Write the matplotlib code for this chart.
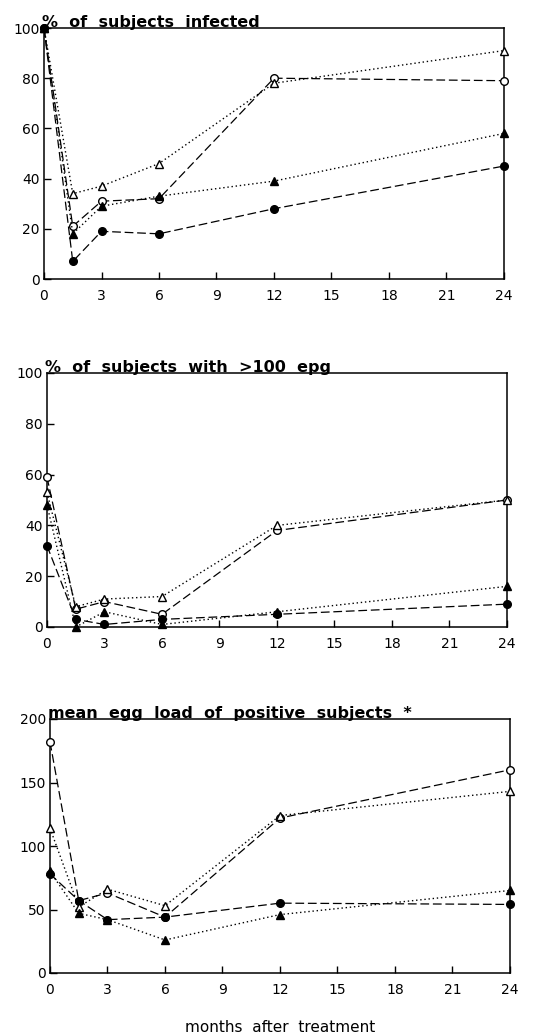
import numpy as np
import matplotlib.pyplot as plt

months = [0, 1.5, 3, 6, 12, 24]

# % of subjects infected
inf_open_circ = [100, 21, 31, 32, 80, 79]
inf_fill_circ = [100, 7, 19, 18, 28, 45]
inf_open_tri = [100, 34, 37, 46, 78, 91]
inf_fill_tri = [100, 18, 29, 33, 39, 58]

# % of subjects with >100 epg
epg_open_circ = [59, 7, 10, 5, 38, 50]
epg_fill_circ = [32, 3, 1, 3, 5, 9]
epg_open_tri = [53, 8, 11, 12, 40, 50]
epg_fill_tri = [48, 0, 6, 1, 6, 16]

# mean egg load of positive subjects
egg_open_circ = [182, 57, 63, 44, 122, 160]
egg_fill_circ = [78, 57, 42, 44, 55, 54]
egg_open_tri = [114, 52, 66, 53, 124, 143]
egg_fill_tri = [80, 47, 42, 26, 46, 65]

titles = ["%  of  subjects  infected",
          "%  of  subjects  with  >100  epg",
          "mean  egg  load  of  positive  subjects  *"]
ymaxes = [100, 100, 200]
ysteps = [20, 20, 50]

panels = [
    (inf_open_circ, inf_fill_circ, inf_open_tri, inf_fill_tri),
    (epg_open_circ, epg_fill_circ, epg_open_tri, epg_fill_tri),
    (egg_open_circ, egg_fill_circ, egg_open_tri, egg_fill_tri),
]

fig = plt.figure(figsize=(5.39, 10.34), dpi=100)
W, H = 539, 1034
boxes = [(44, 28, 460, 251), (47, 373, 460, 254), (50, 719, 460, 254)]

for (x0, y0, w, h), data, title, ymax, ystep in zip(boxes, panels, titles, ymaxes, ysteps):
    ax = fig.add_axes([x0 / W, 1 - (y0 + h) / H, w / W, h / H])
    oc, fc, ot, ft = data
    dash = (0, (7, 3))
    dot = (0, (1, 2))
    ax.plot(months, oc, linestyle=dash, color='black', lw=0.9, marker='o',
            mfc='white', mec='black', ms=5.5, mew=1, zorder=3)
    ax.plot(months, fc, linestyle=dash, color='black', lw=0.9, marker='o',
            mfc='black', mec='black', ms=5.5, zorder=3)
    ax.plot(months, ot, linestyle=dot, color='black', lw=1.0, marker='^',
            mfc='white', mec='black', ms=5.5, mew=1, zorder=3)
    ax.plot(months, ft, linestyle=dot, color='black', lw=1.0, marker='^',
            mfc='black', mec='black', ms=5.5, zorder=3)
    ax.set_xlim(0, 24)
    ax.set_ylim(0, ymax)
    ax.set_xticks(np.arange(0, 25, 3))
    ax.set_yticks(np.arange(0, ymax + 1, ystep))
    ax.tick_params(direction='in', length=5, width=1, labelsize=10, pad=7)
    ax.tick_params(axis='y', pad=3)
    for s in ax.spines.values():
        s.set_linewidth(1.1)
    for m in ax.get_lines():
        m.set_clip_on(False)
    ax.text(-0.005, 1.005, title, transform=ax.transAxes, ha='left', va='baseline',
            fontsize=11.5, fontweight='bold')

fig.text(0.5 * (50 + 510) / W, 1 - 1027 / H, "months  after  treatment",
         ha='center', va='center', fontsize=11)

fig.savefig("out.png", dpi=100)
